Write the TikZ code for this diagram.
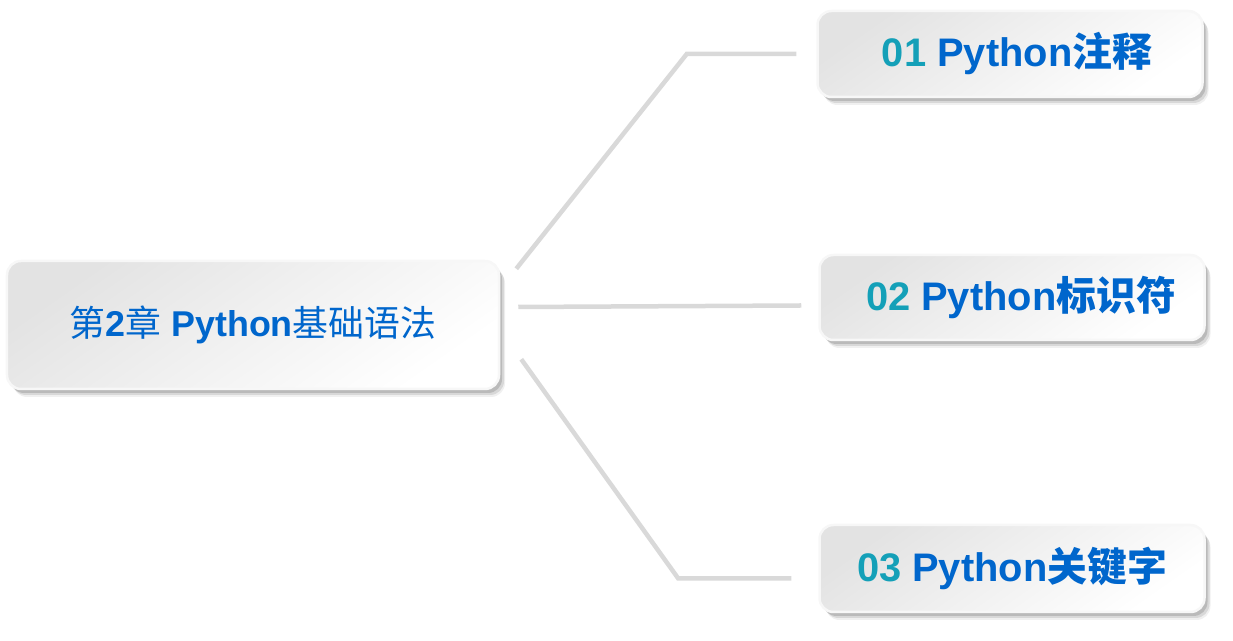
\documentclass[tikz,border=0pt]{standalone}
\usepackage{fontspec}
\setmainfont{Liberation Sans}
\newfontfamily\cjk{Noto Sans CJK SC}
\usetikzlibrary{calc, shadows, positioning}
\definecolor{titleblue}{HTML}{0066CC}
\definecolor{numteal}{HTML}{14A0B8}
\definecolor{linkgray}{HTML}{D9D9D9}

\begin{document}
\begin{tikzpicture}[x=1bp,y=1bp,
    card/.style={rounded corners=14bp, draw=gray!6, line width=2.5bp,
        top color=gray!22, bottom color=white, shading angle=35,
        drop shadow={shadow xshift=6bp, shadow yshift=-8bp, fill=black, opacity=0.06},
        drop shadow={shadow xshift=5bp, shadow yshift=-6bp, fill=black, opacity=0.10},
        drop shadow={shadow xshift=3bp, shadow yshift=-4bp, fill=black, opacity=0.14},
        text=titleblue, inner sep=0pt},
    link/.style={draw=linkgray, line width=4.5bp}]
        \useasboundingbox (0,0) rectangle (1233,641);

        \node[card, minimum width=492bp, minimum height=128bp,
              font=\fontsize{36}{40}\selectfont] (main) at (253,316)
              {{\cjk 第}\textbf{2}{\cjk 章} \textbf{Python}{\cjk 基础语法}};

        \node[card, minimum width=385bp, minimum height=86bp,
              font=\fontsize{40}{44}\selectfont\bfseries] (b1) at (1010,587)
              {\hspace*{14bp}\textcolor{numteal}{01} Python{\cjk\bfseries 注释}};
        \node[card, minimum width=385bp, minimum height=85bp,
              font=\fontsize{40}{44}\selectfont\bfseries] (b2) at (1012,343.5)
              {\hspace*{18bp}\textcolor{numteal}{02} Python{\cjk\bfseries 标识符}};
        \node[card, minimum width=385bp, minimum height=87bp,
              font=\fontsize{40}{44}\selectfont\bfseries] (b3) at (1012,72.5)
              {\textcolor{numteal}{03} Python{\cjk\bfseries 关键字}};

        \draw[link] ([shift={(16,-9)}]main.north east)
              -- ([xshift=-130]b1.west) -- ([xshift=-20]b1.west);
        \draw[link] ([shift={(18,18)}]main.east) -- ([shift={(-17,-8)}]b2.west);
        \draw[link] ([shift={(21,31)}]main.south east)
              -- ([shift={(-140,-10)}]b3.west) -- ([shift={(-27,-10)}]b3.west);
      \end{tikzpicture}
\end{document}
